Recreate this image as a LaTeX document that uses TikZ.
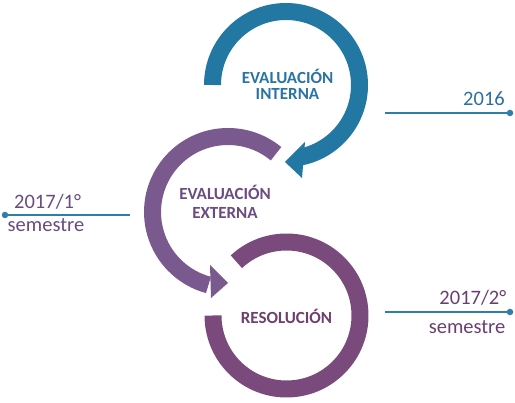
\documentclass[tikz,border=0pt]{standalone}
\usepackage{fontspec}
\setmainfont{Carlito}
\usetikzlibrary{calc}
\definecolor{ringblue}{HTML}{2277A3}
\definecolor{ringmid}{HTML}{79598E}
\definecolor{ringbot}{HTML}{7A4A7C}
\definecolor{txtblue}{HTML}{2A74A3}
\definecolor{txtmid}{HTML}{6C4C80}
\definecolor{txtbot}{HTML}{6E3F6F}
\definecolor{lblblue}{HTML}{2D6F9E}
\definecolor{lblmid}{HTML}{6A4A7F}
\definecolor{lblbot}{HTML}{6B3E70}
\definecolor{lineblue}{HTML}{2E7DAA}
\tikzset{
  ring/.style={line width=17pt},
  ringlabel/.style={font=\fontsize{17}{17}\selectfont\bfseries, inner sep=0pt},
  datelabel/.style={font=\fontsize{20.5}{20.5}\selectfont, inner sep=0pt},
  timeline/.style={draw=lineblue, line width=2.5pt},
  tdot/.style={circle, fill=lineblue, inner sep=0pt, minimum size=6.5pt}
}
\begin{document}
\begin{tikzpicture}[x=1pt,y=-1pt]
\useasboundingbox (0,0) rectangle (515,403);
% centres
\coordinate (cb) at (286,85);
\coordinate (cm) at (228,212);
\coordinate (cr) at (286.5,315.5);
% blue ring with arrow
\draw[ring, draw=ringblue] ($(cb)+(-180:73.5)$) arc[start angle=-180, end angle=78, radius=73.5];
\fill[ringblue] (305,142) -- (285,162) -- (302,178) -- cycle;
% middle ring with arrow
\draw[ring, draw=ringmid] ($(cm)+(-50.5:75.5)$) arc[start angle=-50.5, end angle=-255, radius=75.5];
\fill[ringmid] (210,265) -- (228,283) -- (211,298) -- cycle;
% bottom ring
\draw[ring, draw=ringbot] ($(cr)+(-133:73.5)$) arc[start angle=-133, end angle=180, radius=73.5];
% ring labels
\node[ringlabel, text=txtblue, anchor=base] (i1) at (287.5,83.3) {EVALUACIÓN};
\node[ringlabel, text=txtblue, anchor=base] (i2) at (287.5,100) {INTERNA};
\node[ringlabel, text=txtmid, anchor=base] (e1) at (225,200) {EVALUACIÓN};
\node[ringlabel, text=txtmid, anchor=base] (e2) at (225,219) {EXTERNA};
\node[ringlabel, text=txtbot, anchor=base] (r1) at (286.5,323.3) {RESOLUCIÓN};
% timelines
\coordinate (a1) at (385,113);
\node[tdot] (a2) at (510,113) {};
\draw[timeline] (a1) -- (a2.center);
\node[datelabel, text=lblblue, anchor=base east] (d1) at (505,106) {2016};
\coordinate (b1) at (130,215);
\node[tdot] (b2) at (5,215) {};
\draw[timeline] (b1) -- (b2.center);
\node[datelabel, text=lblmid, anchor=base west] (d2) at (14,208.3) {2017/1°};
\node[datelabel, text=lblmid, anchor=base west] (d3) at (7.5,231.7) {semestre};
\coordinate (c1) at (385,312);
\node[tdot] (c2) at (510,312) {};
\draw[timeline] (c1) -- (c2.center);
\node[datelabel, text=lblbot, anchor=base east] (d4) at (506.5,305) {2017/2°};
\node[datelabel, text=lblbot, anchor=base east] (d5) at (505.5,333.3) {semestre};
\end{tikzpicture}
\end{document}
